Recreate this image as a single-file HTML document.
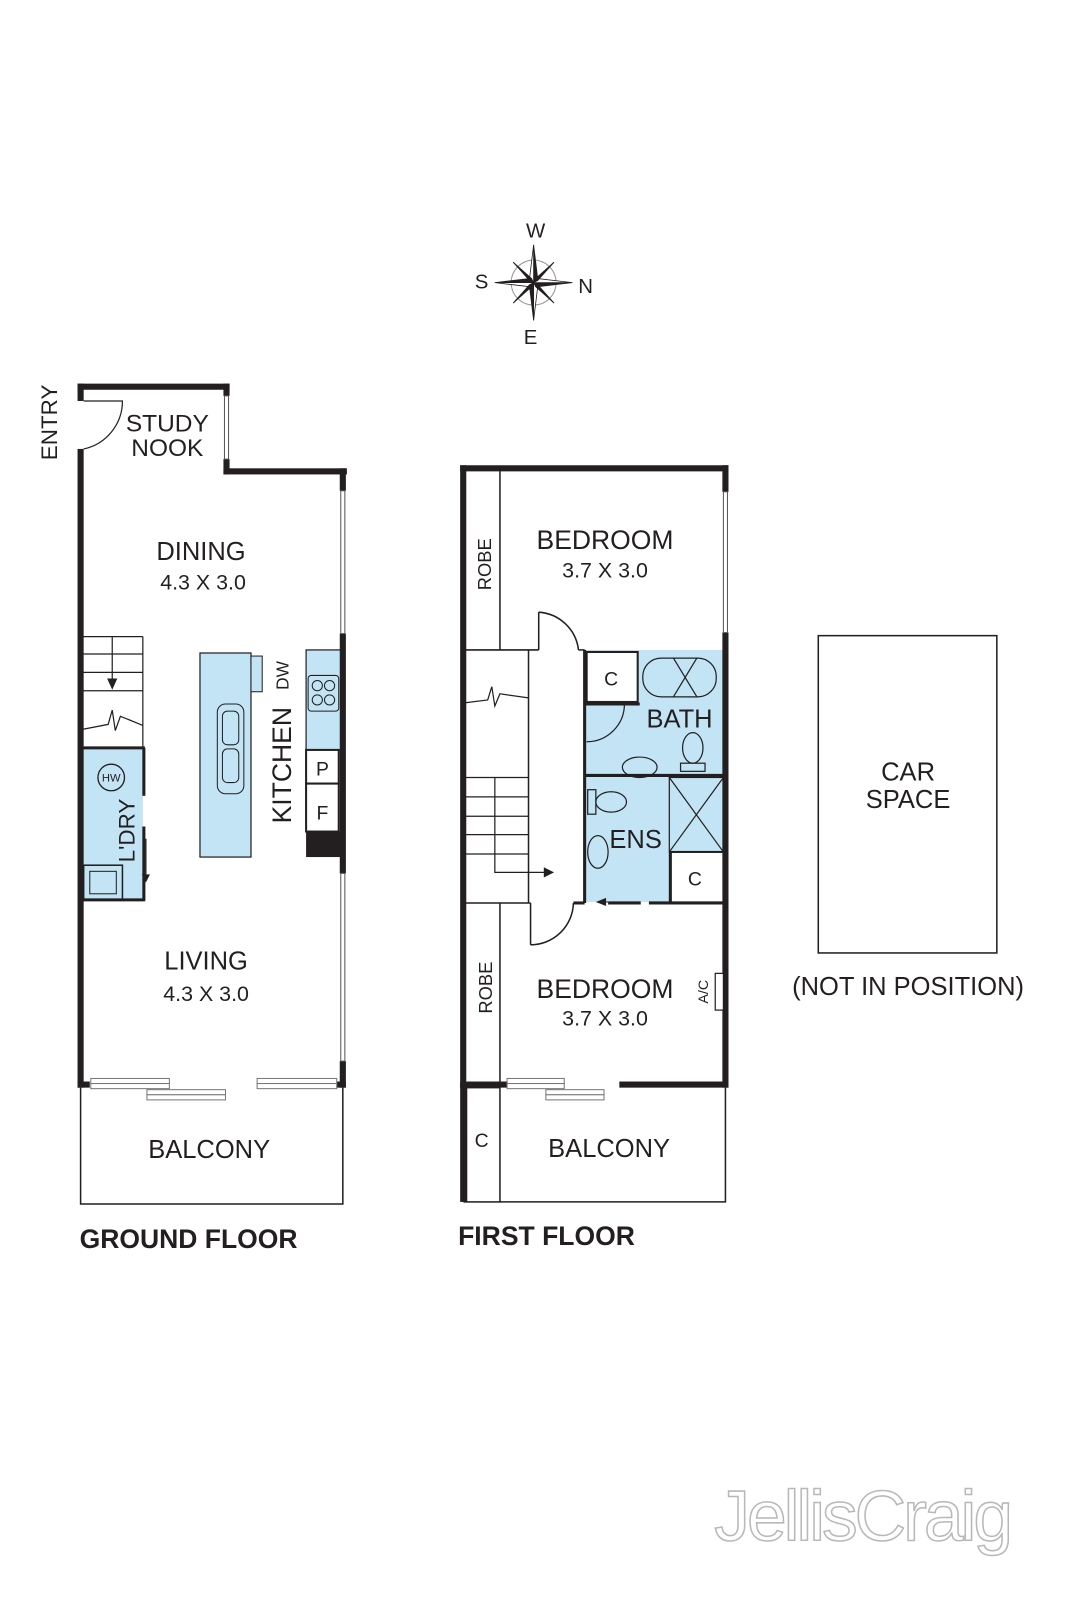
<!DOCTYPE html>
<html><head><meta charset="utf-8"><style>
html,body{margin:0;padding:0;background:#fff;overflow:hidden}
svg{display:block}
text{font-family:"Liberation Sans","DejaVu Sans",sans-serif;fill:#231f20}
</style></head><body>
<svg width="1067" height="1600" viewBox="0 0 1067 1600" xmlns="http://www.w3.org/2000/svg">
<rect width="1067" height="1600" fill="#fff"/>
<g transform="scale(1.0203)">
<!-- Compass -->
<g transform="translate(523,277)">
<circle r="22" fill="none" stroke="#999" stroke-width="1"/>
<g fill="#231f20" stroke="#231f20" stroke-width="0.8">
<polygon points="0,-37 4,-4 0,0"/><polygon points="0,-37 -4,-4 0,0" fill="#fff"/>
<polygon points="0,37 -4,4 0,0"/><polygon points="0,37 4,4 0,0" fill="#fff"/>
<polygon points="-38,0 -4,-4 0,0"/><polygon points="-38,0 -4,4 0,0" fill="#fff"/>
<polygon points="38,0 4,4 0,0"/><polygon points="38,0 4,-4 0,0" fill="#fff"/>
<polygon points="-20,-20 -2,-4 0,0"/><polygon points="-20,-20 -4,-2 0,0"/>
<polygon points="20,-20 4,-2 0,0"/><polygon points="20,-20 2,-4 0,0"/>
<polygon points="20,20 2,4 0,0"/><polygon points="20,20 4,2 0,0"/>
<polygon points="-20,20 -4,2 0,0"/><polygon points="-20,20 -2,4 0,0"/>
</g>
</g>
<text x="525" y="233" font-size="20" text-anchor="middle">W</text>
<text x="472" y="283" font-size="20" text-anchor="middle">S</text>
<text x="574" y="287" font-size="20" text-anchor="middle">N</text>
<text x="520" y="337" font-size="20" text-anchor="middle">E</text>

<!-- ========== GROUND FLOOR ========== -->
<rect x="80" y="733" width="60" height="150" fill="#c2e4f5"/>
<rect x="196" y="640" width="50" height="200" fill="#c2e4f5" stroke="#231f20" stroke-width="1.2"/>
<rect x="246" y="643" width="11" height="35" fill="#c2e4f5" stroke="#231f20" stroke-width="1"/>
<rect x="300" y="637" width="34" height="98" fill="#c2e4f5" stroke="#231f20" stroke-width="1.2"/>
<rect x="213" y="690" width="26" height="88" rx="8" fill="none" stroke="#231f20" stroke-width="1"/>
<rect x="218" y="697" width="16" height="33" rx="5" fill="none" stroke="#231f20" stroke-width="1"/>
<rect x="218" y="734" width="16" height="33" rx="5" fill="none" stroke="#231f20" stroke-width="1"/>
<rect x="302" y="662" width="30" height="35" rx="3" fill="none" stroke="#231f20" stroke-width="1"/>
<circle cx="311" cy="672" r="5" fill="none" stroke="#231f20"/><circle cx="323" cy="672" r="5" fill="none" stroke="#231f20"/>
<circle cx="311" cy="686" r="5" fill="none" stroke="#231f20"/><circle cx="323" cy="686" r="5" fill="none" stroke="#231f20"/>
<rect x="300" y="735" width="32" height="33" fill="#fff" stroke="#231f20" stroke-width="2"/>
<rect x="300" y="768" width="32" height="47" fill="#fff" stroke="#231f20" stroke-width="2"/>
<rect x="300" y="815" width="37" height="25" fill="#231f20"/>
<text x="316" y="760" font-size="19" text-anchor="middle">P</text>
<text x="316" y="803" font-size="19" text-anchor="middle">F</text>

<g stroke="#231f20" stroke-width="1.2" fill="none">
<line x1="80" y1="624" x2="140" y2="624"/><line x1="80" y1="641" x2="140" y2="641"/>
<line x1="80" y1="659" x2="140" y2="659"/><line x1="80" y1="677" x2="140" y2="677"/>
<line x1="140" y1="624" x2="140" y2="733"/>
<line x1="110" y1="624" x2="110" y2="672"/>
<polyline points="80,715 106,710 110,696 113,716 118,702 140,711"/>
</g>
<polygon points="105,665 115,665 110,676" fill="#231f20"/>
<line x1="80" y1="733" x2="142" y2="733" stroke="#231f20" stroke-width="3"/>
<line x1="141" y1="733" x2="141" y2="780" stroke="#231f20" stroke-width="3"/>
<line x1="141" y1="810" x2="141" y2="883" stroke="#231f20" stroke-width="3"/>
<line x1="80" y1="882" x2="142" y2="882" stroke="#231f20" stroke-width="3"/>
<line x1="143" y1="822" x2="143" y2="860" stroke="#231f20" stroke-width="1.2"/>
<polygon points="139,857 147,857 143,865" fill="#231f20"/>
<rect x="82" y="848" width="38" height="34" fill="none" stroke="#231f20" stroke-width="1.5"/>
<rect x="88" y="854" width="26" height="22" fill="none" stroke="#231f20" stroke-width="1"/>
<circle cx="109" cy="762" r="13" fill="none" stroke="#231f20" stroke-width="1.3"/>
<text x="109" y="766" font-size="11" text-anchor="middle">HW</text>
<text transform="translate(132,814) rotate(-90)" font-size="22" text-anchor="middle">L'DRY</text>

<g fill="#231f20">
<rect x="76" y="376" width="149" height="6"/>
<rect x="76" y="376" width="6" height="17"/>
<rect x="76" y="440" width="6" height="626"/>
<rect x="219" y="376" width="6" height="12"/>
<rect x="219" y="450" width="6" height="15"/>
<rect x="219" y="459" width="121" height="6"/>
<rect x="333" y="459" width="6" height="22"/>
<rect x="333" y="621" width="6" height="235"/>
<rect x="333" y="1040" width="6" height="26"/>
<rect x="76" y="1060" width="12" height="6"/>
<rect x="328" y="1060" width="11" height="6"/>
</g>
<rect x="220" y="388" width="4" height="62" fill="#fff" stroke="#555" stroke-width="1"/>
<rect x="334" y="481" width="4" height="140" fill="#fff" stroke="#555" stroke-width="1"/>
<rect x="334" y="856" width="4" height="184" fill="#fff" stroke="#555" stroke-width="1"/>
<path d="M82,440 A48,48 0 0 0 120,393 L82,393" fill="none" stroke="#231f20" stroke-width="1.2"/>
<g fill="#fff" stroke="#777" stroke-width="1">
<rect x="89" y="1057" width="77" height="5"/><rect x="89" y="1062" width="77" height="5"/>
<rect x="144" y="1068" width="77" height="5"/><rect x="144" y="1073" width="77" height="5"/>
<rect x="252" y="1057" width="78" height="5"/><rect x="252" y="1062" width="78" height="5"/>
</g>
<polyline points="79,1066 79,1180 336,1180 336,1066" fill="none" stroke="#231f20" stroke-width="1.5"/>

<text transform="translate(56,414) rotate(-90)" font-size="22" text-anchor="middle">ENTRY</text>
<text x="164" y="423" font-size="24" text-anchor="middle">STUDY</text>
<text x="164" y="447" font-size="24" text-anchor="middle">NOOK</text>
<text x="197" y="549" font-size="25" text-anchor="middle">DINING</text>
<text x="199" y="578" font-size="21" text-anchor="middle">4.3 X 3.0</text>
<text transform="translate(283,662) rotate(-90)" font-size="17" text-anchor="middle">DW</text>
<text transform="translate(285,750) rotate(-90)" font-size="26" text-anchor="middle">KITCHEN</text>
<text x="202" y="950" font-size="25" text-anchor="middle">LIVING</text>
<text x="202" y="981" font-size="21" text-anchor="middle">4.3 X 3.0</text>
<text x="205" y="1135" font-size="25" text-anchor="middle">BALCONY</text>
<text x="78" y="1223" font-size="26" font-weight="bold">GROUND FLOOR</text>

<!-- ========== FIRST FLOOR ========== -->
<rect x="573" y="637" width="138" height="123" fill="#c2e4f5"/>
<rect x="573" y="760" width="138" height="124" fill="#c2e4f5"/>
<g stroke="#231f20" fill="none" stroke-width="1.2">
<rect x="575" y="639" width="50" height="49" fill="#fff" stroke-width="2"/>
<rect x="630" y="645" width="72" height="38" rx="18"/>
<line x1="683" y1="645" x2="660" y2="683"/><line x1="660" y1="645" x2="683" y2="683"/>
<path d="M575,690 L612,690 A37,37 0 0 1 575,727"/>
<ellipse cx="627" cy="752" rx="17" ry="10"/>
<ellipse cx="679" cy="733" rx="10" ry="15"/><rect x="667" y="748" width="24" height="8"/>
<rect x="656" y="762" width="53" height="73"/>
<line x1="656" y1="762" x2="709" y2="835"/><line x1="709" y1="762" x2="656" y2="835"/>
<rect x="576" y="774" width="8" height="24"/><ellipse cx="599" cy="786" rx="15" ry="10"/>
<ellipse cx="586" cy="835" rx="10" ry="16"/>
<rect x="657" y="835" width="54" height="50" fill="#fff" stroke-width="2"/>
</g>
<line x1="573" y1="690" x2="627" y2="690" stroke="#231f20" stroke-width="3"/>
<line x1="573" y1="760" x2="711" y2="760" stroke="#231f20" stroke-width="3"/>
<line x1="573" y1="637" x2="573" y2="885" stroke="#231f20" stroke-width="3"/>
<line x1="657" y1="835" x2="657" y2="885" stroke="#231f20" stroke-width="3"/>
<text x="599" y="672" font-size="19" text-anchor="middle">C</text>
<text x="681" y="868" font-size="19" text-anchor="middle">C</text>
<text x="666" y="713" font-size="25" text-anchor="middle">BATH</text>
<text x="623" y="831" font-size="25" text-anchor="middle">ENS</text>

<g fill="#231f20">
<rect x="451" y="456" width="263" height="6"/>
<rect x="451" y="456" width="6" height="610"/>
<rect x="708" y="456" width="6" height="26"/>
<rect x="708" y="620" width="6" height="446"/>
<rect x="451" y="1060" width="46" height="6"/>
<rect x="607" y="1060" width="107" height="6"/>
</g>
<rect x="709" y="482" width="4" height="138" fill="#fff" stroke="#555" stroke-width="1"/>
<g stroke="#231f20" stroke-width="1.5" fill="none">
<line x1="490" y1="459" x2="490" y2="637"/>
<line x1="454" y1="637" x2="528" y2="637"/>
<line x1="567" y1="637" x2="573" y2="637"/>
<line x1="518" y1="637" x2="518" y2="885"/>
<line x1="454" y1="885" x2="520" y2="885"/>
<line x1="490" y1="885" x2="490" y2="1062"/>
<line x1="520" y1="885" x2="520" y2="926"/>
<line x1="528" y1="637" x2="528" y2="600"/>
<path d="M528,600 A42,42 0 0 1 567,637"/>
<path d="M520,926 A42,42 0 0 0 562,885"/>
<line x1="562" y1="885" x2="573" y2="885" stroke-width="3"/>
<line x1="596" y1="885" x2="628" y2="885" stroke-width="3"/>
<line x1="636" y1="885" x2="711" y2="885" stroke-width="3"/>
</g>
<line x1="586" y1="884" x2="596" y2="884" stroke="#231f20" stroke-width="1"/>
<polygon points="584,884 594,880 594,888" fill="#231f20"/>
<g stroke="#231f20" stroke-width="1.2" fill="none">
<polyline points="454,689 478,686 482,673 485,692 490,680 518,684"/>
<line x1="454" y1="762" x2="518" y2="762"/><line x1="454" y1="781" x2="518" y2="781"/>
<line x1="454" y1="800" x2="518" y2="800"/><line x1="454" y1="818" x2="518" y2="818"/>
<line x1="454" y1="837" x2="518" y2="837"/>
<polyline points="485,762 485,855 534,855"/>
</g>
<polygon points="533,850 543,855 533,860" fill="#231f20"/>
<rect x="701" y="954" width="8" height="36" fill="#fff" stroke="#231f20" stroke-width="1.2"/>
<text transform="translate(694,972) rotate(-90)" font-size="14" text-anchor="middle">A/C</text>
<g fill="#fff" stroke="#777" stroke-width="1">
<rect x="497" y="1057" width="56" height="5"/><rect x="497" y="1062" width="56" height="5"/>
<rect x="535" y="1068" width="57" height="5"/><rect x="535" y="1073" width="57" height="5"/>
</g>
<rect x="451" y="1063" width="7" height="115" fill="#231f20"/>
<rect x="455" y="1066" width="35" height="112" fill="none" stroke="#231f20" stroke-width="1.5"/>
<polyline points="490,1178 711,1178 711,1066" fill="none" stroke="#231f20" stroke-width="1.5"/>
<text x="472" y="1124" font-size="19" text-anchor="middle">C</text>
<text x="597" y="1134" font-size="25" text-anchor="middle">BALCONY</text>
<text x="449" y="1220" font-size="26" font-weight="bold">FIRST FLOOR</text>

<text transform="translate(481,553) rotate(-90)" font-size="18" text-anchor="middle">ROBE</text>
<text transform="translate(482,968) rotate(-90)" font-size="18" text-anchor="middle">ROBE</text>
<text x="593" y="538" font-size="26" text-anchor="middle">BEDROOM</text>
<text x="593" y="566" font-size="21" text-anchor="middle">3.7 X 3.0</text>
<text x="593" y="978" font-size="26" text-anchor="middle">BEDROOM</text>
<text x="593" y="1005" font-size="21" text-anchor="middle">3.7 X 3.0</text>

<rect x="802" y="623" width="175" height="311" fill="none" stroke="#231f20" stroke-width="1.5"/>
<text x="890" y="765" font-size="25" text-anchor="middle">CAR</text>
<text x="890" y="792" font-size="25" text-anchor="middle">SPACE</text>
<text x="890" y="975" font-size="25" text-anchor="middle">(NOT IN POSITION)</text>

<text x="845" y="1510" font-size="70" text-anchor="middle" style="fill:#fff;stroke:#b8b8b8;stroke-width:1.5;letter-spacing:-3px">JellisCraig</text>
</g>
</svg>
</body></html>
